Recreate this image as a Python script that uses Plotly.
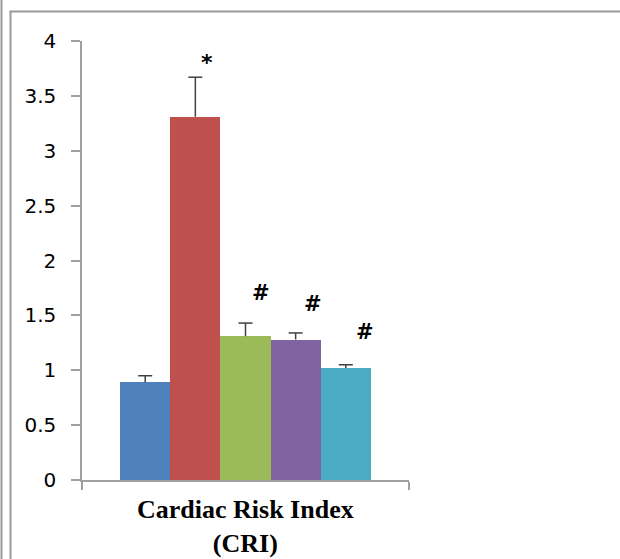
import plotly.graph_objects as go

# Cardiac Risk Index (CRI) per group: mean and upper error
groups = ["Group 1", "Group 2", "Group 3", "Group 4", "Group 5"]
cri_mean = [0.89, 3.31, 1.31, 1.28, 1.02]
cri_err = [0.06, 0.36, 0.12, 0.06, 0.03]
bar_colors = ["#4F81BD", "#C0504D", "#9BBB59", "#8064A2", "#4BACC6"]
sig_marks = ["", "*", "#", "#", "#"]
y_ticks = [0, 0.5, 1, 1.5, 2, 2.5, 3, 3.5, 4]
y_tick_text = ["0", "0.5", "1", "1.5", "2", "2.5", "3", "3.5", "4"]

W, H = 620, 559
ML, MR, MT, MB = 82, 211, 41, 79
PW, PH = W - ML - MR, H - MT - MB
CAP = 0.14  # half width of the error-bar cap, in bar units


def px_x(px):
    return (px - ML) / PW


def px_y(py):
    return (H - MB - py) / PH


fig = go.Figure()
for i, g in enumerate(groups):
    fig.add_trace(go.Bar(
        x=[i], y=[cri_mean[i]], width=1, name=g,
        marker=dict(color=bar_colors[i], line=dict(width=0)),
        showlegend=False,
    ))

# upper-only error bars: stem from the bar top plus a cap
ex, ey = [], []
for i, (m, e) in enumerate(zip(cri_mean, cri_err)):
    ex += [i, i, None, i - CAP, i + CAP, None]
    ey += [m, m + e, None, m + e, m + e, None]
fig.add_trace(go.Scatter(x=ex, y=ey, mode="lines", showlegend=False,
                         line=dict(color="#404040", width=1.5),
                         hoverinfo="skip"))

# significance marks above the error bars
mark_shift = [(0, 0), (12, 15), (15, 30), (17, 29), (19, 33)]
for i, m in enumerate(sig_marks):
    if not m:
        continue
    fig.add_annotation(
        x=i, y=cri_mean[i] + cri_err[i], text="<b>%s</b>" % m, showarrow=False,
        xshift=mark_shift[i][0], yshift=mark_shift[i][1],
        font=dict(family="DejaVu Sans", size=22 if m == "*" else 21, color="#000000"),
    )

# axis title below the bars
fig.add_annotation(
    x=0.5, y=0, xref="paper", yref="paper", yanchor="top", yshift=-13,
    text="<b>Cardiac Risk Index</b><br><b>(CRI)</b>", showarrow=False,
    font=dict(family="Liberation Serif", size=26, color="#000000"),
)

# frame lines around the chart
frame = "#9A9A9A"
fig.add_shape(type="line", xref="paper", yref="paper",
              x0=px_x(1.5), x1=px_x(1.5), y0=px_y(0), y1=px_y(H),
              line=dict(color=frame, width=2))
fig.add_shape(type="line", xref="paper", yref="paper",
              x0=px_x(10.5), x1=px_x(10.5), y0=px_y(11), y1=px_y(H),
              line=dict(color=frame, width=2))
fig.add_shape(type="line", xref="paper", yref="paper",
              x0=px_x(9.5), x1=px_x(W), y0=px_y(11.5), y1=px_y(11.5),
              line=dict(color=frame, width=2))

fig.update_layout(
    width=W, height=H,
    margin=dict(l=ML, r=MR, t=MT, b=MB, pad=0),
    paper_bgcolor="#FFFFFF", plot_bgcolor="#FFFFFF",
    bargap=0,
    xaxis=dict(range=[-1.26, 5.26], showgrid=False, zeroline=False,
               showline=True, linecolor="#A0A0A0", linewidth=1.5,
               tickmode="array", tickvals=[-1.26, 5.26], ticktext=["", ""],
               ticks="outside", ticklen=8, tickcolor="#A0A0A0", tickwidth=1.5),
    yaxis=dict(range=[0, 4], showgrid=False, zeroline=False,
               showline=True, linecolor="#A0A0A0", linewidth=1.5,
               tickmode="array", tickvals=y_ticks, ticktext=y_tick_text,
               ticks="outside", ticklen=9, tickcolor="#A0A0A0", tickwidth=1.5,
               ticklabelstandoff=11,
               tickfont=dict(family="DejaVu Sans", size=20, color="#000000")),
)

fig.write_html("out.html")
